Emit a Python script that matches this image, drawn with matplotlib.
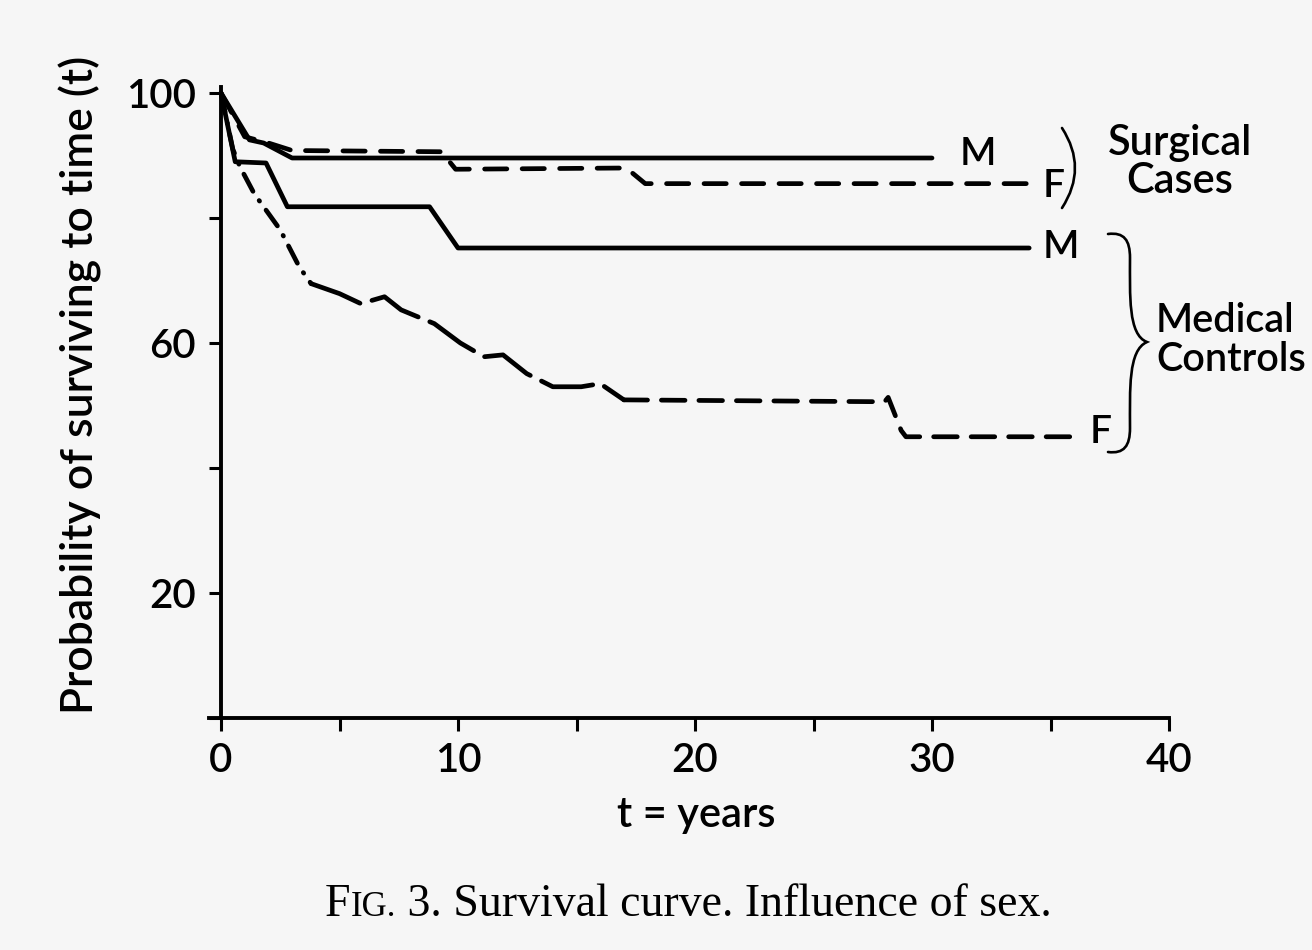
import matplotlib
matplotlib.use("Agg")
import matplotlib.pyplot as plt
from matplotlib.path import Path
from matplotlib.patches import PathPatch
import numpy as np

# ---------------- data ----------------
surg_m_t = [0, 1.2, 1.8, 3.0, 30.0]
surg_m_s = [100, 92.5, 92.0, 89.6, 89.6]

surg_f_t = [0, 1.0, 2.0, 3.0, 9.3, 9.9, 17.1, 17.9, 34.3]
surg_f_s = [100, 93.0, 92.0, 90.8, 90.6, 87.8, 88.0, 85.5, 85.5]

med_m_t = [0, 0.6, 1.9, 2.8, 8.8, 10.0, 34.1]
med_m_s = [100, 89.0, 88.8, 81.8, 81.8, 75.2, 75.2]

med_f_t = [0, 0.5, 0.8, 1.4, 2.5, 3.3, 3.8, 5.0, 5.9, 6.9, 7.6, 9.0, 10.1,
           11.1, 11.9, 12.9, 14.0, 15.2, 16.0, 17.0, 28.0, 28.15, 28.7, 28.9, 36.3]
med_f_s = [100, 91.0, 88.2, 83.9, 78.1, 72.2, 69.5, 67.9, 66.3, 67.4, 65.3, 63.1, 60.0,
           57.8, 58.1, 55.1, 53.0, 53.0, 53.5, 50.9, 50.6, 51.3, 46.0, 45.0, 45.0]

x_major = [0, 10, 20, 30, 40]
x_minor = [5, 15, 25, 35]
y_major = [20, 60, 100]
y_minor = [0, 40, 80]

# ---------------- figure ----------------
W, H = 1312, 950
BG = "#f6f6f6"
plt.rcParams["lines.scale_dashes"] = False
SANS = ["Lato", "DejaVu Sans"]
SERIF = ["Liberation Serif", "DejaVu Serif"]
FW = "semibold"

fig = plt.figure(figsize=(W / 100, H / 100), dpi=100, facecolor=BG)

px_per_x = (1169 - 221) / 40.0
px_per_y = (718 - 93) / 100.0
xlo, xhi, ylo, yhi = -0.5, 40.0, 0.0, 101.0
left_px = 221 + xlo * px_per_x
right_px = 221 + xhi * px_per_x
bot_px = 718
top_px = 718 - yhi * px_per_y
ax = fig.add_axes([left_px / W, 1 - bot_px / H, (right_px - left_px) / W, (bot_px - top_px) / H])
ax.set_facecolor(BG)
ax.set_xlim(xlo, xhi)
ax.set_ylim(ylo, yhi)
for s in ["top", "right"]:
    ax.spines[s].set_visible(False)
ax.spines["left"].set_position(("data", 0))
ax.spines["bottom"].set_position(("data", 0))
for s in ["left", "bottom"]:
    ax.spines[s].set_linewidth(2.8)
    ax.spines[s].set_color("black")

ax.set_xticks(x_major)
ax.set_xticks(x_minor, minor=True)
ax.set_yticks(y_major)
ax.set_yticks(y_minor, minor=True)
ax.set_xticklabels([str(v) for v in x_major], fontsize=29, family=SANS, fontweight=FW)
ax.set_yticklabels([str(v) for v in y_major], fontsize=29, family=SANS, fontweight=FW)
ax.tick_params(axis="both", which="both", direction="out", length=9, width=2.2, color="black")
ax.tick_params(axis="x", which="both", pad=8)
ax.tick_params(axis="y", which="both", pad=9)

lw = 3.4
kw = dict(color="black", lw=lw, solid_capstyle="round", dash_capstyle="round",
          solid_joinstyle="round", clip_on=False)

ax.plot(surg_m_t, surg_m_s, ls="-", **kw)
ax.plot(surg_f_t, surg_f_s, ls=(0, (16, 11)), **kw)
ax.plot(med_m_t, med_m_s, ls="-", **kw)

# medical controls, female: dash-dot early, long dashes middle, dashes late
i1, i2 = 6, 19
ax.plot(med_f_t[:i1 + 1], med_f_s[:i1 + 1], ls=(0, (14, 8, 0.5, 8)), **kw)
ax.plot(med_f_t[i1:i2 + 1], med_f_s[i1:i2 + 1], ls=(0, (38, 9)), **kw)
ax.plot(med_f_t[i2:], med_f_s[i2:], ls=(0, (17, 10)), **kw)

lab_kw = dict(fontsize=28, family=SANS, fontweight=FW, ha="center", va="center",
              clip_on=False)
ax.text(31.94, 90.2, "M", **lab_kw)
ax.text(35.12, 85.1, "F", **lab_kw)
ax.text(35.45, 75.4, "M", **lab_kw)
ax.text(37.13, 45.8, "F", **lab_kw)

def pix(x, y):
    return (x / W, 1 - y / H)

def brace_path(pts, codes):
    verts = [pix(x, y) for x, y in pts]
    return PathPatch(Path(verts, codes), transform=fig.transFigure, fill=False,
                     lw=1.9, edgecolor="black", capstyle="round")

fig.patches.append(brace_path([(1062, 128), (1088, 168), (1062, 208)],
                              [Path.MOVETO, Path.CURVE3, Path.CURVE3]))
C4 = Path.CURVE4
fig.patches.append(brace_path(
    [(1108, 234), (1124, 232), (1130, 240), (1130, 258),
     (1130, 295), (1128, 335), (1147, 342),
     (1128, 350), (1130, 390), (1130, 428),
     (1130, 446), (1124, 454), (1108, 452)],
    [Path.MOVETO, C4, C4, C4, C4, C4, C4, C4, C4, C4, C4, C4, C4]))

fig.text(1180 / W, 1 - 162 / H, "Surgical\nCases", fontsize=30, family=SANS,
         fontweight=FW, ha="center", va="center", linespacing=1.02)
fig.text(1156 / W, 1 - 340 / H, "Medical\nControls", fontsize=28.5, family=SANS,
         fontweight=FW, ha="left", va="center", linespacing=1.08)

fig.text(80 / W, 1 - 385 / H, "Probability of surviving to time (t)", fontsize=32,
         family=SANS, fontweight=FW, rotation=90, ha="center", va="center")
fig.text(696 / W, 1 - 815 / H, "t = years", fontsize=30, family=SANS,
         fontweight=FW, ha="center", va="center")

fig.canvas.draw()
r = fig.canvas.get_renderer()
base_y = 1 - 916 / H
x0 = 325 / W
parts = [("F", 33), ("IG.", 25), (" 3. Survival curve. Influence of sex.", 33)]
for txt, fs in parts:
    t = fig.text(x0, base_y, txt, fontsize=fs, family=SERIF, ha="left", va="baseline")
    bb = t.get_window_extent(renderer=r)
    x0 = bb.x1 / W

fig.savefig("out.png", dpi=100, facecolor=BG)
